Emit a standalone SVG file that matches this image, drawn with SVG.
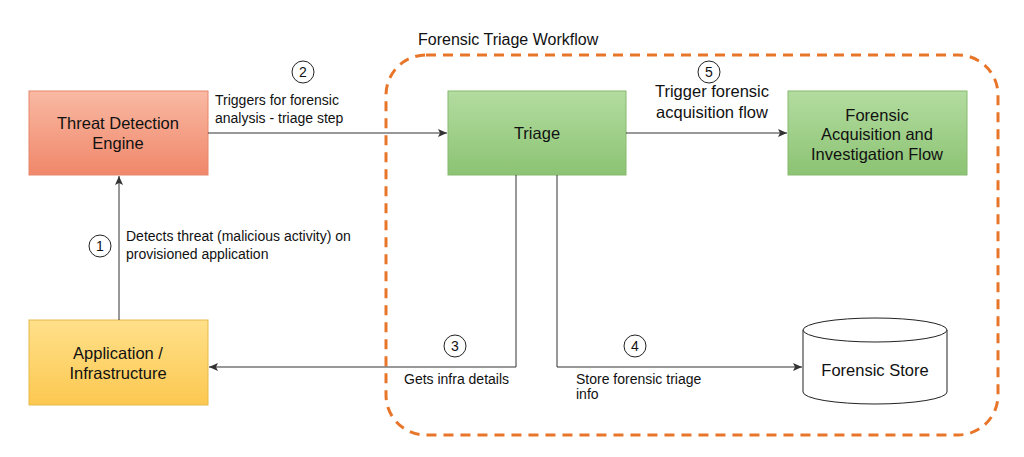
<svg xmlns="http://www.w3.org/2000/svg" width="1024" height="457" viewBox="0 0 1024 457">
<defs>
<linearGradient id="gO" x1="0" y1="0" x2="0" y2="1"><stop offset="0" stop-color="#f9b9a3"/><stop offset="1" stop-color="#f0876a"/></linearGradient>
<linearGradient id="gY" x1="0" y1="0" x2="0" y2="1"><stop offset="0" stop-color="#ffe08a"/><stop offset="1" stop-color="#fcc850"/></linearGradient>
<linearGradient id="gG" x1="0" y1="0" x2="0" y2="1"><stop offset="0" stop-color="#b3dca0"/><stop offset="1" stop-color="#8cc373"/></linearGradient>
<marker id="ar" markerWidth="10" markerHeight="8" refX="9" refY="4" orient="auto" markerUnits="userSpaceOnUse"><path d="M0,0 L9,4 L0,8 L2,4 Z" fill="#333"/></marker>
<style>
text{font-family:"Liberation Sans",Arial,sans-serif;fill:#111}
.n{font-size:16.5px;text-anchor:middle}
.l{font-size:14px}
.c{fill:#fff;stroke:#222;stroke-width:1}
.cn{font-size:14px;text-anchor:middle}
.e{fill:none;stroke:#333;stroke-width:1}
</style>
</defs>
<rect x="386" y="55" width="612" height="380" rx="40" fill="none" stroke="#e8762a" stroke-width="3" stroke-dasharray="10,7"/>
<text x="418" y="45" style="font-size:16px">Forensic Triage Workflow</text>
<g id="threat"><rect x="29" y="91" width="179" height="84" fill="url(#gO)" stroke="#e6866a"/><text class="n" x="118" y="129">Threat Detection</text><text class="n" x="118" y="149">Engine</text></g>
<g id="app"><rect x="29" y="320" width="179" height="85" fill="url(#gY)" stroke="#e6b84a"/><text class="n" x="118" y="359">Application /</text><text class="n" x="118" y="379">Infrastructure</text></g>
<g id="triage"><rect x="448" y="91" width="178" height="84" fill="url(#gG)" stroke="#86b96e"/><text class="n" x="537" y="139">Triage</text></g>
<g id="acq"><rect x="788" y="91" width="179" height="84" fill="url(#gG)" stroke="#86b96e"/><text class="n" x="877" y="121">Forensic</text><text class="n" x="877" y="140">Acquisition and</text><text class="n" x="877" y="160">Investigation Flow</text></g>
<g id="store"><path d="M803,330 L803,392 A72,12 0 0 0 947,392 L947,330" fill="#fff" stroke="#222"/><ellipse cx="875" cy="330" rx="72" ry="12" fill="#fff" stroke="#222"/><text class="n" x="875" y="376">Forensic Store</text></g>
<g id="connectors">
<path class="e" d="M119,320 L119,176" marker-end="url(#ar)"/>
<path class="e" d="M208,133 L447,133" marker-end="url(#ar)"/>
<path class="e" d="M626,133 L787,133" marker-end="url(#ar)"/>
<path class="e" d="M516,175 L516,367 L209,367" marker-end="url(#ar)"/>
<path class="e" d="M557,175 L557,367 L802,367" marker-end="url(#ar)"/>
<circle class="c" cx="100" cy="246" r="11"/><text class="cn" x="100" y="251">1</text>
<text class="l" x="126" y="241">Detects threat (malicious activity) on</text>
<text class="l" x="126" y="259">provisioned application</text>
<circle class="c" cx="303" cy="72" r="11"/><text class="cn" x="303" y="77">2</text>
<text class="l" x="215" y="105">Triggers for forensic</text>
<text class="l" x="215" y="123">analysis - triage step</text>
<circle class="c" cx="455" cy="346" r="11"/><text class="cn" x="455" y="351">3</text>
<text class="l" x="404" y="384">Gets infra details</text>
<circle class="c" cx="635" cy="346" r="11"/><text class="cn" x="635" y="351">4</text>
<text class="l" x="576" y="384">Store forensic triage</text>
<text class="l" x="576" y="399">info</text>
<circle class="c" cx="709" cy="72" r="11"/><text class="cn" x="709" y="77">5</text>
<text class="n" x="712" y="97">Trigger forensic</text>
<text class="n" x="712" y="118">acquisition flow</text>
</g>
</svg>
